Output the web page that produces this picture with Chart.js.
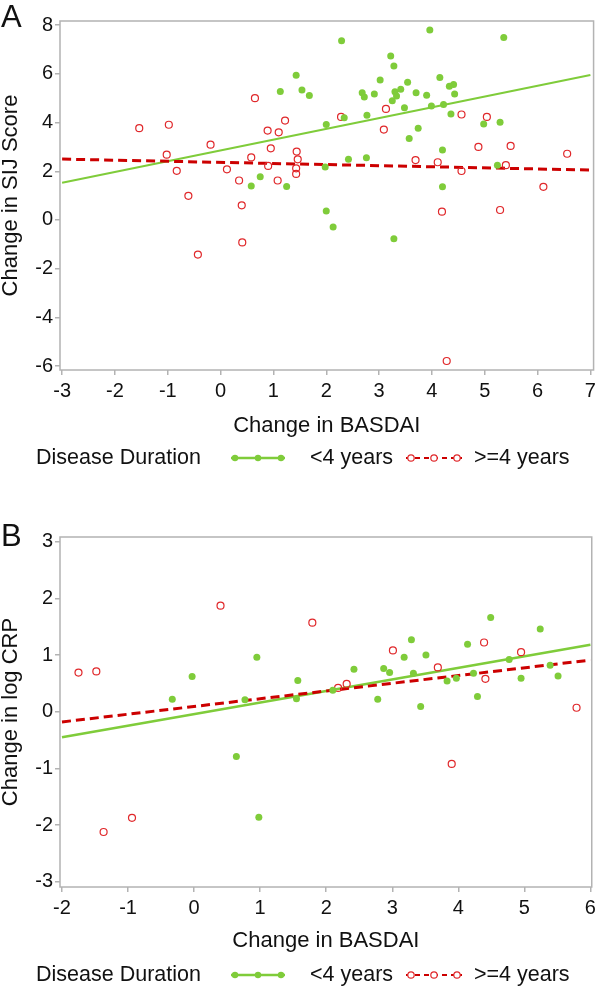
<!DOCTYPE html>
<html><head><meta charset="utf-8">
<script src="https://cdn.jsdelivr.net/npm/chart.js@4.4.1/dist/chart.umd.min.js"></script>
<style>
html,body{margin:0;padding:0;background:#fff;width:600px;height:987px;overflow:hidden}
canvas{position:absolute;left:0}
#cA{top:0}
#cB{top:490px}
</style></head><body>
<canvas id="cA" width="600" height="490"></canvas>
<canvas id="cB" width="600" height="497"></canvas>
<script>
// ---------- shared text ----------
const legendTitle = 'Disease Duration';
const groupLabels = ['<4 years', '>=4 years'];
const xTitle = 'Change in BASDAI';

// ---------- Panel A: Change in SIJ Score ----------
const aPanel = 'A';
const aYTitle = 'Change in SIJ Score';
const aTicksX = [-3, -2, -1, 0, 1, 2, 3, 4, 5, 6, 7];
const aTicksY = [-6, -4, -2, 0, 2, 4, 6, 8];
const aLt4X = [0.58, 0.75, 1.25, 1.13, 1.43, 1.54, 1.68, 2.29, 2.00, 2.34, 2.68, 2.72, 2.77, 2.91, 3.02, 3.22,
  3.28, 3.30, 3.33, 3.25, 3.41, 3.54, 3.48, 3.70, 3.57, 3.74, 3.96, 3.90, 3.99, 4.15, 4.22, 4.33,
  4.41, 4.43, 4.36, 4.20, 2.42, 2.76, 1.98, 4.20, 4.98, 5.29, 5.36, 5.24, 2.00, 2.13, 3.28];
const aLt4Y = [1.40, 1.77, 1.37, 5.28, 5.94, 5.34, 5.11, 7.36, 3.92, 4.20, 5.22, 5.05, 4.30, 5.17, 5.75, 6.73,
  6.32, 5.27, 5.09, 4.90, 5.37, 5.65, 4.61, 5.22, 3.35, 3.77, 7.80, 5.12, 4.68, 5.85, 4.74, 5.49,
  5.56, 5.17, 4.35, 2.87, 2.49, 2.56, 2.18, 1.36, 3.94, 4.01, 7.49, 2.25, 0.37, -0.29, -0.77];
const aGe4X = [-1.54, -0.98, -1.02, -0.83, -0.19, 0.12, 0.35, 0.58, 0.65, 0.89, 0.95, 0.90, 1.10, 1.22, 1.08,
  1.44, 1.46, 1.43, 1.43, 2.28, 3.13, 3.09, 4.56, 3.69, 4.11, 4.56, 4.88, 5.04, 5.49, 5.40, 6.56, 6.11,
  -0.61, -0.43, 0.40, 0.41, 4.19, 5.29, 4.28];
const aGe4Y = [3.77, 3.91, 2.68, 2.02, 3.09, 2.08, 1.62, 2.57, 5.00, 3.67, 2.94, 2.22, 3.60, 4.08, 1.62,
  2.81, 2.49, 1.89, 2.12, 4.23, 4.56, 3.71, 4.33, 2.46, 2.37, 2.01, 3.00, 4.23, 3.04, 2.25, 2.72, 1.36,
  0.99, -1.42, 0.60, -0.92, 0.34, 0.41, -5.79];
const aFitX = [-3, 7];
const aFitLt4Y = [1.53, 5.95];
const aFitGe4Y = [2.50, 2.05];

// ---------- Panel B: Change in log CRP ----------
const bPanel = 'B';
const bYTitle = 'Change in log CRP';
const bTicksX = [-2, -1, 0, 1, 2, 3, 4, 5, 6];
const bTicksY = [-3, -2, -1, 0, 1, 2, 3];
const bLt4X = [-0.33, -0.03, 0.77, 0.64, 0.98, 0.95, 1.57, 1.55, 2.10, 2.42, 2.78, 2.87, 2.96, 3.18, 3.29,
  3.32, 3.43, 3.51, 3.83, 3.97, 4.14, 4.23, 4.29, 4.49, 4.77, 4.95, 5.24, 5.39, 5.51];
const bLt4Y = [0.22, 0.62, 0.21, -0.79, -1.86, 0.96, 0.55, 0.23, 0.38, 0.75, 0.22, 0.76, 0.69, 0.96, 1.27,
  0.68, 0.09, 1.00, 0.54, 0.59, 1.19, 0.68, 0.27, 1.66, 0.92, 0.59, 1.46, 0.82, 0.63];
const bGe4X = [-1.75, -1.48, -1.37, -0.94, 0.40, 1.79, 2.18, 2.31, 3.01, 3.69, 3.90, 4.39, 4.41, 4.95, 5.79];
const bGe4Y = [0.69, 0.71, -2.12, -1.87, 1.87, 1.57, 0.42, 0.49, 1.08, 0.78, -0.92, 1.22, 0.58, 1.05, 0.07];
const bFitX = [-2, 6];
const bFitLt4Y = [-0.45, 1.18];
const bFitGe4Y = [-0.18, 0.91];

// ---------- styles ----------
const GREEN = '#7fcc3a';
const RED_PT = '#e0282b';
const RED_LN = '#cc0000';
const AXIS = '#b3b3b3';
const TXT = '#111111';
const FONT = '"Liberation Sans", Arial, Helvetica, sans-serif';

const pairs = (xs, ys) => xs.map((x, i) => ({x: x, y: ys[i]}));

const framePlugin = {
  id: 'frame',
  beforeDatasetsDraw(chart) {
    const {ctx, chartArea: a} = chart;
    ctx.save();
    ctx.strokeStyle = AXIS;
    ctx.lineWidth = 1.5;
    ctx.strokeRect(a.left, a.top, a.right - a.left, a.bottom - a.top);
    ctx.restore();
  }
};

const letterPlugin = {
  id: 'letter',
  afterDraw(chart, args, opts) {
    const ctx = chart.ctx;
    ctx.save();
    ctx.font = '31px ' + FONT;
    ctx.fillStyle = TXT;
    ctx.textBaseline = 'top';
    ctx.textAlign = 'left';
    ctx.fillText(opts.text, 1, opts.y);
    ctx.restore();
  }
};

const legendPlugin = {
  id: 'ddLegend',
  afterDraw(chart, args, opts) {
    const ctx = chart.ctx;
    const y = opts.y;
    const ds = chart.data.datasets;
    ctx.save();
    ctx.font = '21.5px ' + FONT;
    ctx.fillStyle = TXT;
    ctx.textBaseline = 'middle';
    ctx.textAlign = 'left';
    ctx.fillText(legendTitle, 36, y);
    // green item
    ctx.strokeStyle = ds[2].borderColor;
    ctx.lineWidth = 2.5;
    ctx.setLineDash([]);
    ctx.beginPath(); ctx.moveTo(231, y); ctx.lineTo(285, y); ctx.stroke();
    ctx.fillStyle = ds[0].backgroundColor;
    [235, 258, 281].forEach(cx => { ctx.beginPath(); ctx.arc(cx, y, 3.2, 0, Math.PI * 2); ctx.fill(); });
    ctx.fillStyle = TXT;
    ctx.fillText(ds[0].label, 310, y);
    // red item
    ctx.strokeStyle = ds[3].borderColor;
    ctx.lineWidth = 2;
    ctx.setLineDash([5, 4]);
    ctx.beginPath(); ctx.moveTo(406, y); ctx.lineTo(462, y); ctx.stroke();
    ctx.setLineDash([]);
    ctx.lineWidth = 1.2;
    ctx.strokeStyle = ds[1].borderColor;
    [411, 434, 457].forEach(cx => {
      ctx.beginPath(); ctx.arc(cx, y, 3.2, 0, Math.PI * 2);
      ctx.fillStyle = '#fff'; ctx.fill(); ctx.stroke();
    });
    ctx.fillStyle = TXT;
    ctx.fillText(ds[1].label, 474, y);
    ctx.restore();
  }
};

function makeChart(id, cfg) {
  const fixTicks = vals => scale => { scale.ticks = vals.map(v => ({value: v})); };
  return new Chart(document.getElementById(id), {
    type: 'scatter',
    data: {
      datasets: [
        {label: groupLabels[0], data: pairs(cfg.lt4X, cfg.lt4Y), backgroundColor: GREEN, borderColor: GREEN,
         pointRadius: 3.5, pointBorderWidth: 0, order: 1},
        {label: groupLabels[1], data: pairs(cfg.ge4X, cfg.ge4Y), backgroundColor: 'rgba(255,255,255,0)', borderColor: RED_PT,
         pointRadius: 3.5, pointBorderWidth: 1.2, order: 2},
        {label: 'fit1', type: 'line', data: pairs(cfg.fitX, cfg.fitLt4), borderColor: GREEN, borderWidth: cfg.gw,
         pointRadius: 0, fill: false, order: 4},
        {label: 'fit2', type: 'line', data: pairs(cfg.fitX, cfg.fitGe4), borderColor: RED_LN, borderWidth: 3,
         borderDash: [9, 5], pointRadius: 0, fill: false, order: 3}
      ]
    },
    options: {
      responsive: false,
      animation: false,
      devicePixelRatio: 1,
      events: [],
      layout: {padding: {left: 0, right: 4, top: cfg.padTop, bottom: cfg.padBottom}},
      plugins: {
        legend: {display: false},
        tooltip: {enabled: false},
        letter: {text: cfg.letter, y: cfg.letterY},
        ddLegend: {y: cfg.legendY}
      },
      scales: {
        x: {
          type: 'linear', position: 'bottom', min: cfg.xMin, max: cfg.xMax,
          afterBuildTicks: fixTicks(cfg.ticksX),
          afterFit: s => { s.height = cfg.xAxisH; },
          grid: {display: true, drawOnChartArea: false, drawTicks: true, tickLength: 5, color: AXIS, lineWidth: 1.5},
          border: {display: false},
          ticks: {color: TXT, font: {family: FONT, size: 20}, padding: 4, maxRotation: 0, autoSkip: false},
          title: {display: true, text: xTitle, color: TXT, font: {family: FONT, size: 22}, padding: {top: 0, bottom: 6}}
        },
        y: {
          type: 'linear', position: 'left', min: cfg.yMin, max: cfg.yMax,
          afterBuildTicks: fixTicks(cfg.ticksY),
          afterFit: s => { s.width = 60; },
          grid: {display: true, drawOnChartArea: false, drawTicks: true, tickLength: 5, color: AXIS, lineWidth: 1.5},
          border: {display: false},
          ticks: {color: TXT, font: {family: FONT, size: 20}, padding: 2, autoSkip: false},
          title: {display: true, text: cfg.yTitle, color: TXT, font: {family: FONT, size: 22, lineHeight: 1.0}, padding: {top: 0, bottom: 0}}
        }
      }
    },
    plugins: [framePlugin, letterPlugin, legendPlugin]
  });
}

makeChart('cA', {
  letter: aPanel, letterY: 3, yTitle: aYTitle,
  lt4X: aLt4X, lt4Y: aLt4Y, ge4X: aGe4X, ge4Y: aGe4Y,
  fitX: aFitX, fitLt4: aFitLt4Y, fitGe4: aFitGe4Y, gw: 2,
  ticksX: aTicksX, ticksY: aTicksY,
  xMin: -3.04, xMax: 7.06, yMin: -6.16, yMax: 8.17,
  padTop: 21, padBottom: 45, xAxisH: 75, legendY: 458
});

makeChart('cB', {
  letter: bPanel, letterY: 32, yTitle: bYTitle,
  lt4X: bLt4X, lt4Y: bLt4Y, ge4X: bGe4X, ge4Y: bGe4Y,
  fitX: bFitX, fitLt4: bFitLt4Y, fitGe4: bFitGe4Y, gw: 2.6,
  ticksX: bTicksX, ticksY: bTicksY,
  xMin: -2.03, xMax: 6.02, yMin: -3.09, yMax: 3.08,
  padTop: 47, padBottom: 27, xAxisH: 73, legendY: 485
});
</script>
</body></html>
